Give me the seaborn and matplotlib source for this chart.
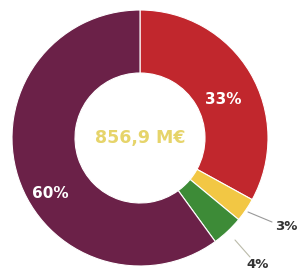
import matplotlib
matplotlib.use("Agg")
import matplotlib.pyplot as plt
import seaborn as sns
import numpy as np

sns.set_theme(style="white")
plt.rcParams['font.family'] = ['DejaVu Sans']

categories = ["A", "B", "C", "D"]
values = [33, 3, 4, 60]
labels = ["33%", "3%", "4%", "60%"]
colors = ["#c1272d", "#f2c744", "#3d8b37", "#6b2148"]
total_label = "856,9 M€"

fig = plt.figure(figsize=(3, 2.7), dpi=100)
ax = fig.add_axes([0, 0, 1, 1])
wedges, _ = ax.pie(values, colors=colors, startangle=90, counterclock=False,
                   radius=128, center=(0, 0),
                   wedgeprops=dict(width=63, edgecolor="white", linewidth=0.8))
ax.set_xlim(-140, 160)
ax.set_ylim(-132, 138)
ax.set_aspect("equal")
ax.axis("off")

ax.text(83, 38, labels[0], color="white", fontsize=11, fontweight="bold", ha="center", va="center")
ax.text(-90, -55, labels[3], color="white", fontsize=11, fontweight="bold", ha="center", va="center")
ax.plot([108, 132], [-74, -84], color="#999999", lw=0.8)
ax.text(146, -88, labels[1], color="#333333", fontsize=9.5, fontweight="bold", ha="center", va="center")
ax.plot([95, 110], [-102, -119], color="#bbbbaa", lw=0.8)
ax.text(118, -127, labels[2], color="#333333", fontsize=9.5, fontweight="bold", ha="center", va="center")
ax.text(0, 0, total_label, color="#e6d46a", fontsize=12.5, fontweight="bold", ha="center", va="center")

fig.savefig("out.png", dpi=100, facecolor="white")
